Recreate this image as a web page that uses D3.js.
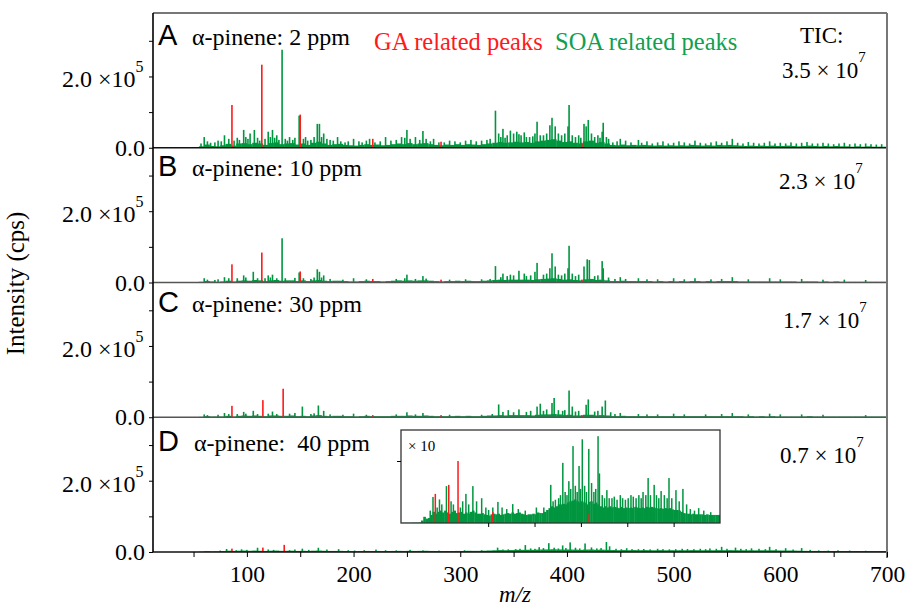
<!DOCTYPE html>
<html>
<head>
<meta charset="utf-8">
<script src="https://cdn.jsdelivr.net/npm/d3@7/dist/d3.min.js"></script>
<style>
body { margin: 0; background: #fff; }
text { font-family: "Liberation Serif", "Times New Roman", serif; }
.letter { font-family: "Liberation Sans", Arial, sans-serif; }
</style>
</head>
<body>
<script>
var width = 907, height = 607;
var plotLeft = 153, plotRight = 887, plotTop = 13, plotBottom = 552;

// panels, intensities in 1e3 cps
var panelLetters = ["A", "B", "C", "D"];
var panelTitles = ["\u03b1-pinene: 2 ppm", "\u03b1-pinene: 10 ppm", "\u03b1-pinene: 30 ppm", "\u03b1-pinene:  40 ppm"];
var ticMant = ["3.5", "2.3", "1.7", "0.7"];

// baseline level per 5 m/z bin, starting at m/z 15
var binStart = 15, binWidth = 5;
var baseA = [0.5,0.5,0.6,0.6,0.8,0.8,1,1.5,
  4,9,5,4,7,11,6,12,13,10, 14,12,8,13,15,10,12,13,9,12, 8,14,17,12,8,10,11,8,7,6,
  8,10,8,9,7,8,10,12,10,13, 10,12,13,10,8,7,9,8,10,8, 10,9,8,10,12,14,16,14,15,17,
  15,16,14,18,20,22,24,20,16,18, 14,12,18,20,14,16,12,8,7,9, 7,8,7,8,7,6,7,6,7,6,
  7,6,8,7,6,7,6,8,7,8, 7,6,5,6,5,6,5,6,5,5, 6,5,4,5,6,5,4,5,4,5, 4,4,3,4,3,4,3,3,3,3];
var baseB = [0.3,0.3,0.3,0.4,0.4,0.5,0.6,0.8,
  2,4,3,2,3,5,3,5,6,5, 7,6,4,6,7,5,6,6,4,6, 4,6,7,5,4,5,5,4,3,3,
  4,5,4,4,3,4,5,6,5,6, 5,6,6,5,4,3,4,4,5,4, 5,4,4,5,6,7,8,7,8,8,
  8,8,7,9,10,11,12,10,8,9, 7,6,9,10,7,8,6,4,4,5, 4,4,4,4,4,3,4,3,4,3,
  4,3,4,4,3,4,3,4,4,4, 4,3,3,3,3,3,3,3,3,3, 3,3,2,3,3,3,2,3,2,3, 2,2,2,2,2,2,2,2,2,2];
var baseC = [0.2,0.2,0.2,0.3,0.3,0.3,0.4,0.5,
  1,3,2,2,2,4,2,4,5,4, 5,4,3,5,5,4,4,5,3,4, 3,5,6,4,3,4,4,3,3,2,
  3,4,3,3,3,3,4,4,4,5, 4,4,5,4,3,3,3,3,4,3, 4,3,3,4,5,5,6,5,6,6,
  6,6,5,7,8,8,9,8,6,7, 5,5,7,7,5,6,5,3,3,4, 3,3,3,3,3,3,3,3,3,3,
  3,3,3,3,3,3,3,3,3,3, 3,3,2,3,2,3,2,3,2,2, 2,2,2,2,3,2,2,2,2,2, 2,2,2,2,2,2,2,2,2,2];
var baseD = [0.1,0.1,0.1,0.1,0.2,0.2,0.2,0.3,
  0.8,2,1.4,1.6,2.6,3.6,3,3.6,4,3.4, 4,3.4,3,3.6,4,3.2,3.4,3.6,3,3.4, 3,3.6,4,3.4,3,3,3.2,2.8,2.6,2.4,
  2.8,3,2.8,3,2.6,2.8,3,3.2,3,3.4, 3,3.2,3.4,3,2.8,2.6,2.8,2.8,3,2.8, 3.4,3.2,3.2,3.6,4.2,4.8,5.4,5,5.4,6,
  6,6.2,6,6.6,7,7.2,7.6,7,6.6,7, 6.6,6,6.8,7,6.2,6.6,6,5.4,5,5.4, 5,5.4,5,5.2,5,4.8,5.2,4.8,5,4.8,
  5,4.8,5.2,5,4.8,5,4.8,5.2,5,5.2, 5,4.8,4.6,4.8,4.6,4.8,4.6,4.8,4.4,4.2, 4.2,4,3.6,3.2,3,3,2.8,3,2.8,2.8,
  2.8,2.8,2.6,2.8,2.6,2.6,2.6,2.6,2.6,2.6];

// single peaks [m/z, intensity]
var soaA = [[57,12],[60,30],[63,18],[66,14],[70,15],[73,20],[76,18],[79,35],[83,25],[88,20],[91,28],[93,22],[97,50],
  [99,30],[101,25],[103,40],[107,50],[110,28],[112,20],[117,25],[120,45],[122,30],[124,50],[126,28],[128,35],[130,22],
  [133,275],[136,25],[138,20],[140,30],[143,22],[145,28],[149,90],[153,25],[155,30],[157,20],[160,22],[163,30],
  [166,67],[168,67],[170,30],[172,40],[175,25],[178,22],[181,20],[185,30],[188,18],[192,15],[195,18],[200,25],[205,18],
  [208,15],[212,20],[215,25],[220,15],[225,18],[230,30],[235,20],[240,22],[245,30],[248,28],[250,50],[253,25],[258,30],
  [262,22],[265,47],[268,25],[272,18],[275,25],[280,15],[285,15],[290,20],[295,18],[300,15],[305,20],[310,22],[315,18],
  [320,20],[325,22],[328,25],[333,104],[336,40],[338,30],[340,53],[342,28],[344,35],[347,48],[350,40],[353,45],[355,38],
  [357,35],[360,43],[362,30],[365,30],[368,32],[370,40],[372,73],[375,35],[378,35],[381,40],[384,63],[386,84],[389,60],
  [392,40],[395,35],[398,40],[401,60],[402,120],[405,35],[408,30],[411,35],[413,28],[416,67],[418,60],[420,78],[423,40],
  [426,30],[429,35],[431,28],[433,45],[434,70],[437,30],[439,25],[443,15],[447,18],[450,25],[455,20],[460,15],[467,22],
  [470,14],[475,18],[480,12],[485,15],[490,18],[495,12],[500,14],[505,18],[510,15],[515,12],[520,20],[525,14],[530,12],
  [535,15],[540,18],[545,14],[550,18],[555,25],[560,14],[565,12],[570,16],[575,14],[580,12],[585,14],[590,18],[595,12],
  [600,14],[605,12],[610,15],[615,12],[620,14],[625,16],[630,12],[635,12],[640,14],[645,12],[650,10],[655,12],[660,14],
  [665,10],[670,12],[675,10],[680,12],[685,10],[690,9],[695,10]];
var gaA = [[86,120],[114,233],[150,93],[218,25],[282,17],[414,14]];
var soaB = [[60,12],[63,8],[70,7],[73,9],[79,15],[83,12],[91,12],[97,20],[99,14],[106,30],[110,12],[117,12],[120,20],
  [122,14],[124,22],[128,12],[133,124],[136,12],[145,13],[149,28],[153,12],[160,10],[163,14],[166,37],[168,30],[170,14],
  [172,20],[178,10],[190,8],[200,12],[212,9],[240,10],[248,12],[250,22],[258,10],[265,18],[268,11],[290,8],[305,9],
  [320,9],[328,10],[333,46],[338,15],[340,25],[344,18],[347,22],[350,20],[355,33],[360,25],[362,18],[366,20],[370,30],
  [372,55],[378,22],[381,25],[384,40],[386,82],[389,45],[392,22],[395,20],[398,25],[401,40],[402,103],[405,25],[408,18],
  [411,22],[416,45],[419,65],[421,63],[426,18],[429,20],[433,60],[434,40],[439,14],[445,10],[450,15],[455,10],[467,12],
  [475,9],[485,9],[500,12],[510,9],[520,12],[535,9],[545,10],[555,15],[570,9],[590,12],[600,9],[620,10],[640,8],[660,8],
  [680,7]];
var gaB = [[86,51],[114,84],[150,31],[218,10],[282,8],[414,8]];
var soaC = [[60,8],[63,6],[73,7],[79,12],[83,9],[91,9],[97,15],[99,10],[106,18],[110,9],[120,10],[124,16],[128,9],
  [140,10],[145,12],[152,30],[160,9],[163,11],[167,33],[172,18],[178,8],[190,7],[200,10],[212,7],[240,8],[250,14],
  [258,8],[265,12],[290,7],[320,7],[330,9],[336,36],[340,15],[345,20],[350,14],[355,22],[362,15],[366,18],[372,30],
  [375,38],[378,18],[381,22],[386,40],[388,54],[392,20],[396,18],[398,20],[402,75],[405,30],[408,16],[411,18],[418,35],
  [420,50],[426,16],[429,18],[433,30],[436,47],[441,14],[445,9],[450,12],[467,9],[475,8],[485,8],[500,10],[510,8],
  [530,8],[545,9],[555,12],[570,8],[590,10],[600,8],[620,8],[640,7],[680,6]];
var gaC = [[86,32],[115,48],[134,80],[218,6],[282,6],[414,6]];
var soaD = [[75,4],[81,8.4],[90,5],[95,7.6],[100,6],[110,11.9],[120,7],[125,6],[140,5],[145,7],[152,9.4],[158,6],[167,11.9],
  [175,7],[186,8],[195,5],[201,4.2],[210,5],[221,6.8],[230,5],[240,4.5],[253,6.1],[265,4.5],[280,4],[304,5],[320,5],
  [335,12.3],[340,7],[345,7.5],[352,8],[356,9],[361,19.4],[366,10],[370,9],[374,13.5],[378,11],[383,24.8],[388,12],
  [392,10],[396,18.4],[399,11],[403,27],[408,12],[412,10],[417,23.9],[423,12.9],[428,10],[432,11],[437,28],[440,16],
  [446,9],[451,8],[456,10.6],[461,8],[467,8],[472,8.5],[478,7.5],[485,9],[490,8],[496,7.5],[502,8],[508,9],[513,8.5],
  [519,8],[525,9],[530,8],[534,10],[540,9],[545,14.5],[550,9],[558,12.3],[563,9],[568,8],[573,10.3],[580,9],[586,8],
  [590,14.5],[596,8],[605,10.6],[612,7],[620,11],[628,6],[636,4.5],[645,4],[654,4.8],[665,4],[680,3.5]];
var gaD = [[86,9.4],[115,12.3],[135,20],[210,3.5],[415,2.9]];

var bases = [baseA, baseB, baseC, baseD];
var soa = [soaA, soaB, soaC, soaD];
var ga = [gaA, gaB, gaC, gaD];

// text placement per panel
var labelBase = [45, 176, 312, 451];
var ticX = [782, 779, 783, 780];
var ticBase = [78, 189, 328, 463];

var xTicks = d3.range(50, 701, 50);
var insetFactor = 10;
var green = "#00963f", red = "#ff1a1a";

var svg = d3.select("body").append("svg")
  .attr("width", width).attr("height", height);

var x = d3.scaleLinear().domain([12, 700]).range([plotLeft, plotRight]);
var panelH = (plotBottom - plotTop) / 4;

function drawSpectrum(g, xs, ys, base, greens, reds, k, w) {
  var xMax = xs.range()[1];
  g.selectAll(".base").data(base).enter().append("rect")
    .attr("x", function(d, i) { return xs(binStart + i * binWidth); })
    .attr("width", function(d, i) {
      var x0 = xs(binStart + i * binWidth);
      return Math.max(0, Math.min(xs(binStart + (i + 1) * binWidth) + 0.3, xMax) - x0);
    })
    .attr("y", function(d) { return ys(d * k); })
    .attr("height", function(d) { return ys(0) - ys(d * k); })
    .attr("fill", function(d, i) { return binStart + i * binWidth < 55 ? "#6cc290" : green; });
  g.selectAll(".soa").data(greens).enter().append("rect")
    .attr("x", function(d) { return xs(d[0]) - w / 2; })
    .attr("width", w)
    .attr("y", function(d) { return ys(d[1] * k); })
    .attr("height", function(d) { return ys(0) - ys(d[1] * k); })
    .attr("fill", green);
  g.selectAll(".ga").data(reds).enter().append("rect")
    .attr("x", function(d) { return xs(d[0]) - w / 2; })
    .attr("width", w)
    .attr("y", function(d) { return ys(d[1] * k); })
    .attr("height", function(d) { return ys(0) - ys(d[1] * k); })
    .attr("fill", red);
}

panelLetters.forEach(function(letter, p) {
  var pTop = plotTop + p * panelH, pBot = pTop + panelH;
  var y = d3.scaleLinear().domain([0, 378]).range([pBot, pTop]);
  var g = svg.append("g");
  drawSpectrum(g, x, y, bases[p], soa[p], ga[p], 1, 1.6);

  // zero line
  svg.append("line").attr("x1", plotLeft).attr("x2", plotRight)
    .attr("y1", pBot).attr("y2", pBot)
    .attr("stroke", p == 0 || p == 3 ? "#111" : "#555").attr("stroke-width", 1.6);

  svg.append("g").attr("transform", "translate(" + plotLeft + ",0)")
    .call(d3.axisLeft(y).tickValues([0, 100, 200, 300]).tickSize(4).tickFormat(""))
    .call(function(a) { a.select(".domain").remove(); });

  svg.append("text").attr("x", 145).attr("y", y(0) + 8).attr("text-anchor", "end")
    .style("font-size", "24px").text("0.0");
  var lab = svg.append("text").attr("x", 62).attr("y", y(200) + 11).style("font-size", "24px");
  lab.append("tspan").text("2.0 \u00d710");
  lab.append("tspan").attr("dy", -15).style("font-size", "16px").text("5");

  svg.append("text").attr("class", "letter").attr("x", 158).attr("y", labelBase[p])
    .style("font-size", "29px").text(letter);
  svg.append("text").attr("x", p == 3 ? 194 : 192).attr("y", labelBase[p])
    .style("font-size", "24px").style("white-space", "pre").attr("xml:space", "preserve")
    .text(panelTitles[p]);

  var tic = svg.append("text").attr("x", ticX[p]).attr("y", ticBase[p])
    .style("font-size", "23px");
  tic.append("tspan").text(ticMant[p] + " \u00d7 10");
  tic.append("tspan").attr("dy", -16).style("font-size", "15px").text("7");
});

svg.append("text").attr("x", 800).attr("y", 43).style("font-size", "23px").text("TIC:");
svg.append("text").attr("x", 374).attr("y", 50).style("font-size", "24.5px").attr("fill", red).text("GA related peaks");
svg.append("text").attr("x", 555).attr("y", 50).style("font-size", "24.5px").attr("fill", "#10a050").text("SOA related peaks");

// frame
svg.append("line").attr("x1", plotLeft).attr("x2", plotRight).attr("y1", plotTop).attr("y2", plotTop)
  .attr("stroke", "#777").attr("stroke-width", 2);
svg.append("line").attr("x1", plotRight).attr("x2", plotRight).attr("y1", plotTop).attr("y2", plotBottom + 6)
  .attr("stroke", "#777").attr("stroke-width", 2);
svg.append("line").attr("x1", plotLeft).attr("x2", plotLeft).attr("y1", plotTop).attr("y2", plotBottom)
  .attr("stroke", "#000").attr("stroke-width", 1.6);

// x axis
var xa = svg.append("g").attr("transform", "translate(0," + plotBottom + ")")
  .call(d3.axisBottom(x).tickValues(xTicks).tickSize(5)
    .tickFormat(function(d) { return d % 100 == 0 ? d : ""; }));
xa.select(".domain").remove();
xa.selectAll("text").style("font-size", "23.5px").style("font-family", "Liberation Serif, serif")
  .attr("fill", "#000").attr("dy", "0.95em");

svg.append("text").attr("x", (plotLeft + plotRight) / 2 - 5).attr("y", 602).attr("text-anchor", "middle")
  .style("font-size", "23px").style("font-style", "italic").text("m/z");
svg.append("text").attr("transform", "translate(24," + ((plotTop + plotBottom) / 2 + 1) + ") rotate(-90)")
  .attr("text-anchor", "middle").style("font-size", "25px").text("Intensity (cps)");

// inset: panel D magnified
var ix = d3.scaleLinear().domain([12, 700]).range([401, 720]);
var iy = d3.scaleLinear().domain([0, 300]).range([523, 430]);
svg.append("rect").attr("x", 401).attr("y", 430).attr("width", 319).attr("height", 93)
  .attr("fill", "#fff");
var ig = svg.append("g");
drawSpectrum(ig, ix, iy, baseD, soaD, gaD, insetFactor, 1.5);
svg.append("rect").attr("x", 401).attr("y", 430).attr("width", 319).attr("height", 93)
  .attr("fill", "none").attr("stroke", "#333").attr("stroke-width", 1.3);
svg.append("g").attr("transform", "translate(0,523)")
  .call(d3.axisBottom(ix).tickValues([200, 300, 400, 500, 600]).tickSize(4).tickFormat(""))
  .select(".domain").remove();
svg.append("g").attr("transform", "translate(401,0)")
  .call(d3.axisLeft(iy).tickValues([200]).tickSize(4).tickFormat(""))
  .select(".domain").remove();
svg.append("text").attr("x", 408).attr("y", 451).style("font-size", "15px").text("\u00d7 10");
</script>
</body>
</html>
